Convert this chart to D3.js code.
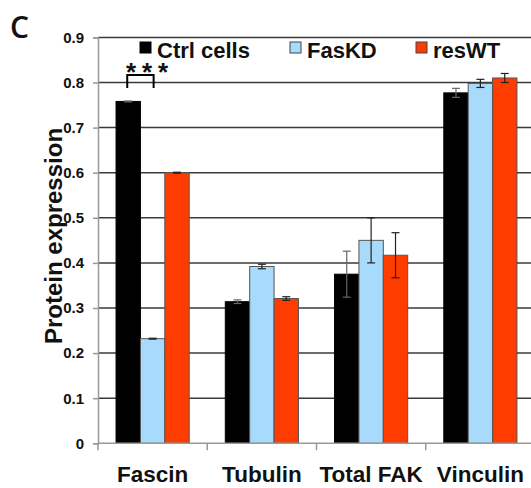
<!DOCTYPE html>
<html><head><meta charset="utf-8">
<script src="https://cdn.jsdelivr.net/npm/d3@7"></script>
<style>body{margin:0;background:#fff;overflow:hidden}svg{display:block}</style>
</head><body>
<svg id="c" width="531" height="488"></svg>
<script>
const categories = ["Fascin", "Tubulin", "Total FAK", "Vinculin"];
const series = ["Ctrl cells", "FasKD", "resWT"];
const colors = ["#000000", "#A8DAFB", "#FF3C00"];
const ctrlValues = [0.758, 0.314, 0.375, 0.777];
const ctrlErrors = [0.001, 0.004, 0.051, 0.010];
const fasKDValues = [0.232, 0.392, 0.450, 0.798];
const fasKDErrors = [0.001, 0.005, 0.050, 0.009];
const resWTValues = [0.600, 0.321, 0.417, 0.810];
const resWTErrors = [0.001, 0.004, 0.050, 0.010];
const yTicks = [0, 0.1, 0.2, 0.3, 0.4, 0.5, 0.6, 0.7, 0.8, 0.9];
const yTickLabels = ["0", "0.1", "0.2", "0.3", "0.4", "0.5", "0.6", "0.7", "0.8", "0.9"];

const values = [ctrlValues, fasKDValues, resWTValues];
const errors = [ctrlErrors, fasKDErrors, resWTErrors];

const svg = d3.select("#c");
const mLeft = 98, mRight = 535, mTop = 37.4, mBottom = 443.3;
const font = "'Liberation Sans', Arial, Helvetica, sans-serif";

const y = d3.scaleLinear().domain([0, 0.9]).range([mBottom, mTop]);
const x0 = d3.scaleBand().domain(categories).range([mLeft, mRight]).padding(0);
const x1 = d3.scaleBand().domain(series).range([0, x0.bandwidth()]).paddingInner(0).paddingOuter(0.74);

// gridlines
svg.append("g").selectAll("line").data(yTicks.filter(d => d > 0)).join("line")
  .attr("x1", mLeft).attr("x2", mRight)
  .attr("y1", d => y(d)).attr("y2", d => y(d))
  .attr("stroke", "#3a3a3a").attr("stroke-width", 1.5);

// y axis
const yAxis = svg.append("g").attr("transform", `translate(${mLeft},0)`)
  .call(d3.axisLeft(y).tickValues(yTicks).tickSize(5).tickPadding(9)
    .tickFormat((d, i) => yTickLabels[i]));
yAxis.select(".domain").attr("stroke", "#999").attr("stroke-width", 1.5);
yAxis.selectAll(".tick line").attr("stroke", "#999").attr("stroke-width", 1.5);
yAxis.selectAll("text").attr("font-family", font).attr("font-weight", "bold")
  .attr("font-size", 15).attr("fill", "#111");

// bars
const groups = svg.append("g").selectAll("g").data(categories).join("g")
  .attr("transform", d => `translate(${x0(d)},0)`);

series.forEach((s, si) => {
  groups.append("rect")
    .attr("x", x1(s)).attr("width", x1.bandwidth())
    .attr("y", (d, i) => y(values[si][i]))
    .attr("height", (d, i) => mBottom - y(values[si][i]))
    .attr("fill", colors[si])
    .attr("stroke", si === 0 ? "#000" : "#555").attr("stroke-width", 1);
});

// error bars
series.forEach((s, si) => {
  const cx = x1(s) + x1.bandwidth() / 2;
  groups.each(function(d, i) {
    const g = d3.select(this);
    const v = values[si][i], e = errors[si][i];
    const col = si === 0 ? "#666" : "#222";
    g.append("line").attr("x1", cx).attr("x2", cx)
      .attr("y1", y(v - e)).attr("y2", y(v + e)).attr("stroke", col).attr("stroke-width", 1.2);
    [v - e, v + e].forEach(t => {
      g.append("line").attr("x1", cx - 4).attr("x2", cx + 4)
        .attr("y1", y(t)).attr("y2", y(t)).attr("stroke", col).attr("stroke-width", 1.2);
    });
  });
});

// x axis
const xAxis = svg.append("g").attr("transform", `translate(0,${mBottom})`);
xAxis.append("line").attr("x1", mLeft).attr("x2", mRight).attr("stroke", "#999").attr("stroke-width", 1.5);
xAxis.selectAll(".tk").data(categories).join("line").attr("class", "tk")
  .attr("x1", d => x0(d)).attr("x2", d => x0(d)).attr("y1", 0).attr("y2", 7)
  .attr("stroke", "#999").attr("stroke-width", 1.5);
xAxis.selectAll("text").data(categories).join("text")
  .attr("x", d => x0(d) + x0.bandwidth() / 2).attr("y", 38.5)
  .attr("text-anchor", "middle").attr("font-family", font).attr("font-weight", "bold")
  .attr("font-size", 22.5).attr("fill", "#111").text(d => d);

// y label
svg.append("text").attr("transform", `translate(62,${236}) rotate(-90)`)
  .attr("text-anchor", "middle").attr("font-family", font).attr("font-weight", "bold")
  .attr("font-size", 24).attr("fill", "#111").text("Protein expression");

// panel letter
svg.append("text").attr("x", 10).attr("y", 38.3).attr("font-family", "'Open Sans', sans-serif")
  .attr("font-weight", 600).attr("font-size", 30).attr("fill", "#111").text("C");

// legend
const legendX = [140, 290, 416];
const lg = svg.append("g").selectAll("g").data(series).join("g")
  .attr("transform", (d, i) => `translate(${legendX[i]},0)`);
lg.append("rect").attr("x", 0).attr("y", 42).attr("width", 11).attr("height", 11)
  .attr("fill", (d, i) => colors[i]).attr("stroke", (d, i) => i === 0 ? "#000" : "#444").attr("stroke-width", 1);
lg.append("text").attr("x", 17).attr("y", 58).attr("font-family", font).attr("font-weight", "bold")
  .attr("font-size", 22).attr("fill", "#111").text(d => d);

// significance
const b0 = x0(categories[0]) + x1(series[0]) + x1.bandwidth() / 2;
const b1 = x0(categories[0]) + x1(series[1]) + x1.bandwidth() / 2;
svg.append("path").attr("d", `M${b0 - 1},88 V75 H${b1 + 1} V88`)
  .attr("fill", "none").attr("stroke", "#000").attr("stroke-width", 2);
[0, 1, 2].forEach(k => {
  svg.append("text").attr("x", 131 + k * 16).attr("y", 80.5).attr("text-anchor", "middle")
    .attr("font-family", font).attr("font-weight", "bold").attr("font-size", 26).attr("fill", "#111").text("*");
});
</script>
</body></html>
